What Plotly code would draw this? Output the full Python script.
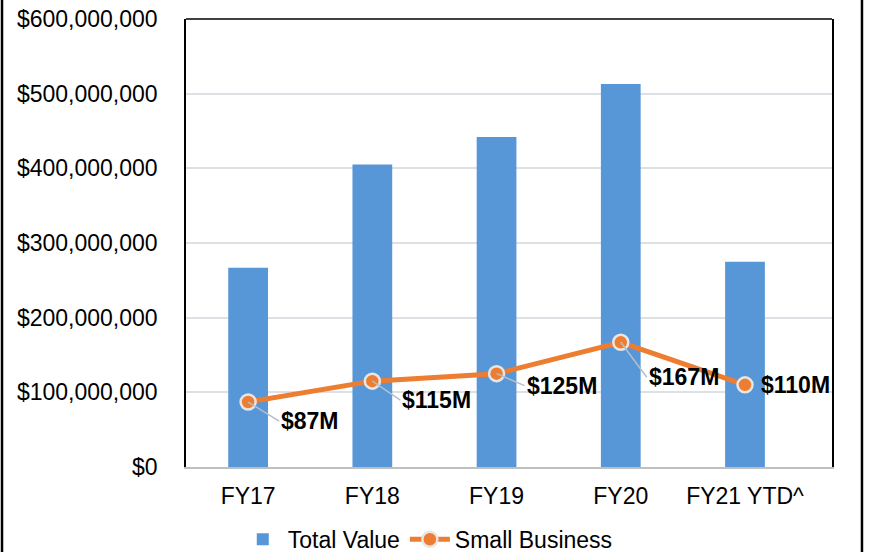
import plotly.graph_objects as go

# data
years = ["FY17", "FY18", "FY19", "FY20", "FY21 YTD^"]
total_value = [267e6, 405e6, 442e6, 513e6, 275e6]
small_business_m = [87, 115, 125, 167, 110]
y_ticks = [0, 100e6, 200e6, 300e6, 400e6, 500e6, 600e6]

# label offsets (pixels) relative to each point, style only
label_dx = [31, 28, 28, 26, 14]
label_dy = [19, 19, 12, 35, 0]

FONT = "Liberation Sans, Arial, sans-serif"

fig = go.Figure()

fig.add_trace(go.Bar(
    x=years,
    y=total_value,
    name="Total Value",
    marker=dict(color="#5797d7", line=dict(width=0)),
))

fig.add_trace(go.Scatter(
    x=years,
    y=[v * 1e6 for v in small_business_m],
    name="Small Business",
    mode="lines+markers",
    line=dict(color="#ed7d31", width=5),
    marker=dict(size=15, color="#ed7d31", line=dict(color="#e6e6e6", width=2.5)),
))

for yr, v, dx, dy in zip(years, small_business_m, label_dx, label_dy):
    fig.add_annotation(
        x=yr, y=v * 1e6,
        text="<b>$%dM</b>" % v,
        xanchor="left", yanchor="middle",
        showarrow=dy > 0,
        arrowhead=0, arrowwidth=1.5, arrowcolor="#b4bfcc",
        standoff=0,
        ax=dx, ay=dy,
        xshift=0 if dy > 0 else dx,
        font=dict(family=FONT, size=23, color="black"),
    )

# plot border (top black) and outer frame
fig.add_shape(type="line", xref="paper", yref="paper", x0=0, x1=1, y0=1, y1=1,
              line=dict(color="black", width=1.5))
fig.add_shape(type="line", xref="paper", yref="paper", x0=-0.2848, x1=-0.2848, y0=-0.2, y1=1.1,
              line=dict(color="black", width=2.5))
fig.add_shape(type="line", xref="paper", yref="paper", x0=1.0464, x1=1.0464, y0=-0.2, y1=1.1,
              line=dict(color="black", width=2.5))

fig.update_layout(
    width=873, height=552,
    margin=dict(l=186, r=41, t=19, b=85, autoexpand=False),
    paper_bgcolor="white", plot_bgcolor="white",
    font=dict(family=FONT, size=23, color="black"),
    bargap=0.68,
    showlegend=True,
    legend=dict(
        orientation="h",
        xref="container", x=0.49, xanchor="center",
        yref="container", y=0.062, yanchor="top",
        font=dict(size=23),
        itemwidth=40,
    ),
)

fig.update_xaxes(
    showline=True, linecolor="#bfbfbf", linewidth=2,
    showgrid=False, ticks="",
    ticklabelstandoff=7,
)

fig.update_yaxes(
    range=[0, 600e6],
    tickvals=y_ticks,
    ticktext=["$" + format(int(t), ",") for t in y_ticks],
    showgrid=True, gridcolor="#dde1e6", gridwidth=1.5,
    showline=True, linecolor="black", linewidth=1.5, mirror=True,
    zeroline=False, ticks="",
    ticklabelstandoff=22,
)

fig.write_html("out.html", config={"displayModeBar": False},
               post_script="document.body.style.margin='0';")
